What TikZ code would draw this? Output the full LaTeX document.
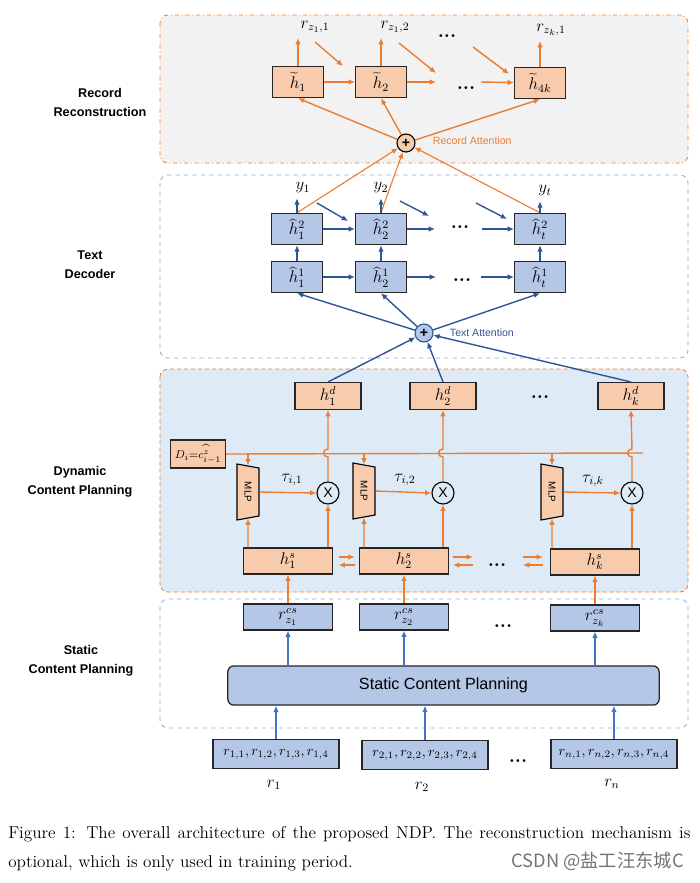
\documentclass[tikz,border=0pt]{standalone}
\usepackage{fontspec}
\setsansfont{Liberation Sans}
\newfontfamily\cjk{Noto Sans CJK SC}
\usetikzlibrary{arrows.meta,shapes.geometric,calc}
\definecolor{orangeLine}{RGB}{237,125,49}
\definecolor{peachFill}{RGB}{248,203,173}
\definecolor{blueFill}{RGB}{180,199,231}
\definecolor{blueLine}{RGB}{47,85,151}
\definecolor{inputLine}{RGB}{68,114,196}
\definecolor{dashBlue}{RGB}{143,170,220}
\definecolor{planFill}{RGB}{222,235,247}
\definecolor{recordFill}{RGB}{242,242,242}
\tikzset{cell/.style={draw=black!85, line width=0.9pt, inner sep=0pt, font=\fontsize{12}{14}\selectfont}}
\tikzset{recordCell/.style={cell, fill=peachFill, minimum width=1.27cm, minimum height=0.78cm}}
\tikzset{decoderCell/.style={cell, fill=blueFill, minimum width=1.27cm, minimum height=0.78cm}}
\tikzset{outCell/.style={cell, fill=peachFill, minimum width=1.65cm, minimum height=0.67cm}}
\tikzset{stateCell/.style={cell, fill=peachFill, minimum width=2.22cm, minimum height=0.65cm}}
\tikzset{csCell/.style={cell, fill=blueFill, minimum width=2.22cm, minimum height=0.65cm}}
\tikzset{inCell/.style={cell, fill=blueFill, minimum width=3.15cm, minimum height=0.73cm, font=\fontsize{10}{12}\selectfont}}
\tikzset{section/.style={rounded corners=0.2cm, line width=0.6pt}}
\tikzset{sideLabel/.style={font=\fontsize{9}{13.5}\selectfont\sffamily\bfseries, align=center}}
\tikzset{moreDots/.style={font=\fontsize{14}{14}\selectfont\bfseries}}
\tikzset{oplus/.style={circle, draw=black, line width=0.8pt, minimum size=0.45cm, inner sep=0pt, font=\sffamily\bfseries}}
\tikzset{prod/.style={circle, draw=black, line width=0.8pt, fill=planFill, minimum size=0.55cm, inner sep=0pt, font=\sffamily}}
\tikzset{mlp/.style={trapezium, trapezium stretches=true, trapezium left angle=76, trapezium right angle=76, rotate=-90, draw=black, line width=0.8pt, fill=peachFill, minimum width=1.4cm, minimum height=0.55cm, inner sep=0pt, font=\fontsize{7}{8}\selectfont\sffamily}}
\tikzset{outLabel/.style={font=\fontsize{12}{14}\selectfont}}
\tikzstyle{oarrow} = [draw=orangeLine, line width=1pt, -{Latex[length=4.5pt,width=4pt]}]
\tikzstyle{barrow} = [draw=blueLine, line width=1pt, -{Latex[length=4.5pt,width=4pt]}]
\tikzstyle{iarrow} = [draw=inputLine, line width=0.8pt, -{Latex[length=4.5pt,width=4pt]}]

\begin{document}
\begin{tikzpicture}[x=0.025cm, y=-0.025cm]
	\useasboundingbox (0,0) rectangle (699,883);

	% Sections
	\draw[section, draw=orangeLine, fill=recordFill, dash dot] (160,15) rectangle (688,163);
	\draw[section, draw=dashBlue, dashed] (160,175) rectangle (688,358);
	\draw[section, draw=orangeLine, fill=planFill, densely dashed] (160,369) rectangle (688,592);
	\draw[section, draw=dashBlue, dashed] (160,599) rectangle (688,728);

	\node (recordTitle) [sideLabel] at (100,102) {Record\\Reconstruction};
	\node (decoderTitle) [sideLabel] at (90,265) {Text\\Decoder};
	\node (dynamicTitle) [sideLabel] at (80,482) {Dynamic\\Content Planning};
	\node (staticTitle) [sideLabel] at (81,661) {Static\\Content Planning};

	% Nodes: record reconstruction
	\node (rec1) [recordCell] at (298,82) {$\widetilde{h}_1$};
	\node (rec2) [recordCell] at (381,82) {$\widetilde{h}_2$};
	\node (rec3) [recordCell] at (540,83) {$\widetilde{h}_{4k}$};
	\node (recDotsTop) [moreDots] at (447,36) {...};
	\node (recDots) [moreDots] at (466,88) {...};
	\node (recOut1) [outLabel] at (315,27) {$r_{z_1,1}$};
	\node (recOut2) [outLabel] at (395,27) {$r_{z_1,2}$};
	\node (recOut3) [outLabel] at (551,30) {$r_{z_k,1}$};
	\node (recPlus) [oplus, fill=peachFill] at (406,143) {+};
	\node (recAttn) [anchor=west, text=orangeLine, font=\fontsize{7.5}{9}\selectfont\sffamily] at (428,141) {Record Attention};
	\coordinate (recMidA) at (436,82);
	\coordinate (recMidB) at (481,82);

	% Nodes: text decoder
	\node (dec21) [decoderCell] at (297,229) {$\widehat{h}^2_1$};
	\node (dec22) [decoderCell] at (381,229) {$\widehat{h}^2_2$};
	\node (dec2t) [decoderCell] at (540,229) {$\widehat{h}^2_t$};
	\node (dec11) [decoderCell] at (297,277) {$\widehat{h}^1_1$};
	\node (dec12) [decoderCell] at (381,277) {$\widehat{h}^1_2$};
	\node (dec1t) [decoderCell] at (540,277) {$\widehat{h}^1_t$};
	\node (decDots2) [moreDots] at (460,227) {...};
	\node (decDots1) [moreDots] at (462,280) {...};
	\node (word1) [outLabel] at (303,188) {$y_1$};
	\node (word2) [outLabel] at (381,188) {$y_2$};
	\node (wordt) [outLabel] at (545,191) {$y_t$};
	\node (decPlus) [oplus, fill=blueFill, draw=blueLine] at (424,333) {+};
	\node (decAttn) [anchor=west, text=blueLine, font=\fontsize{7.5}{9}\selectfont\sffamily] at (445,333) {Text Attention};

	% Nodes: dynamic content planning
	\node (out1) [outCell] at (328,396) {$h^d_1$};
	\node (out2) [outCell] at (443,396) {$h^d_2$};
	\node (outk) [outCell] at (631,396) {$h^d_k$};
	\node (outDots) [moreDots] at (540,397) {...};
	\node (prevCtx) [cell, fill=peachFill, minimum width=1.38cm, minimum height=0.7cm, font=\fontsize{8.5}{10}\selectfont] at (198,454) {$D_i{=}c^{\widehat{z}}_{i-1}$};
	\coordinate (ctxEnd) at (643,453);
	\node (mlp1) [mlp] at (248,492) {MLP};
	\node (mlp2) [mlp] at (364,491) {MLP};
	\node (mlpk) [mlp] at (552,492) {MLP};
	\node (prod1) [prod] at (328,493) {X};
	\node (prod2) [prod] at (443,493) {X};
	\node (prodk) [prod] at (632,493) {X};
	\node (tau1) [outLabel] at (292,480) {$\tau_{i,1}$};
	\node (tau2) [outLabel] at (405,480) {$\tau_{i,2}$};
	\node (tauk) [outLabel] at (593,481) {$\tau_{i,k}$};
	\node (state1) [stateCell] at (288,561) {$h^s_1$};
	\node (state2) [stateCell] at (404,561) {$h^s_2$};
	\node (statek) [stateCell] at (595,562) {$h^s_k$};
	\node (stateDots) [moreDots] at (497,565) {...};

	% Nodes: static content planning
	\node (cs1) [csCell] at (288,617) {$r^{cs}_{z_1}$};
	\node (cs2) [csCell] at (404,617) {$r^{cs}_{z_2}$};
	\node (csk) [csCell] at (595,618) {$r^{cs}_{z_k}$};
	\node (csDots) [moreDots] at (503,626) {...};
	\node (planner) [cell, fill=blueFill, rounded corners=0.15cm, minimum width=10.78cm, minimum height=0.98cm, font=\fontsize{11.5}{13}\selectfont\sffamily] at (443.5,685.5) {Static Content Planning};
	\node (in1) [inCell] at (276,754) {$r_{1,1}, r_{1,2}, r_{1,3}, r_{1,4}$};
	\node (in2) [inCell] at (425,755) {$r_{2,1}, r_{2,2}, r_{2,3}, r_{2,4}$};
	\node (inn) [inCell] at (614,754) {$r_{n,1}, r_{n,2}, r_{n,3}, r_{n,4}$};
	\node (inDots) [moreDots] at (518,761) {...};
	\node (rec1Name) [outLabel] at (274,785) {$r_1$};
	\node (rec2Name) [outLabel] at (422,787) {$r_2$};
	\node (recnName) [outLabel] at (612,784) {$r_n$};

	% Caption
	\node (captionA) [anchor=west, inner sep=0pt, font=\fontsize{12.2}{14}\selectfont] at (8,834) {\makebox[17.05cm][s]{Figure 1: The overall architecture of the proposed NDP. The reconstruction mechanism is}};
	\node (captionB) [anchor=west, inner sep=0pt, font=\fontsize{12.2}{14}\selectfont] at (8,863) {optional, which is only used in training period.};
	\node (mark) [anchor=east, inner sep=0pt, text=black!55, font=\cjk\fontsize{13}{15}\selectfont] at (684,861) {CSDN @盐工汪东城C};

	% Connectors: record reconstruction
	\draw [oarrow] (rec1.north) -- (rec1.north |- recOut1.south);
	\draw [oarrow] (rec2.north) -- (rec2.north |- recOut2.south);
	\draw [oarrow] (rec3.north) -- (rec3.north |- recOut3.south);
	\draw [oarrow, line width=1.3pt] (rec1) -- (rec2);
	\draw [oarrow] (rec2) -- (recMidA);
	\draw [oarrow] (recMidB) -- (rec3);
	\draw [oarrow] (315,42) -- (343,66);
	\draw [oarrow] (399,43) -- (436,73);
	\draw [oarrow] (473,47) -- (509,74);
	\draw [oarrow] (recPlus) -- (rec1.south);
	\draw [oarrow] (recPlus) -- (rec2.south);
	\draw [oarrow] (recPlus) -- (rec3.south);
	\draw [oarrow, line width=0.8pt] (dec21.north) -- (recPlus);
	\draw [oarrow, line width=0.8pt] (dec22.north) -- (recPlus);
	\draw [oarrow, line width=0.8pt] (dec2t.north) -- (recPlus);

	% Connectors: text decoder
	\draw [barrow] (dec21.north) -- (dec21.north |- word1.south);
	\draw [barrow] (dec22.north) -- (dec22.north |- word2.south);
	\draw [barrow] (dec2t.north) -- (dec2t.north |- wordt.south);
	\draw [barrow] (dec11) -- (dec21);
	\draw [barrow] (dec12) -- (dec22);
	\draw [barrow] (dec1t) -- (dec2t);
	\draw [barrow] (dec21) -- (dec22);
	\draw [barrow, line width=1.3pt] (dec22) -- (435,229);
	\draw [barrow] (482,229) -- (dec2t);
	\draw [barrow] (dec11) -- (dec12);
	\draw [barrow] (dec12) -- (436,277);
	\draw [barrow] (481,277) -- (dec1t);
	\draw [barrow] (317,203) -- (348,221);
	\draw [barrow] (400,201) -- (429,216);
	\draw [barrow] (476,203) -- (507,219);
	\draw [barrow] (decPlus) -- (dec11.south);
	\draw [barrow] (decPlus) -- (dec12.south);
	\draw [barrow] (decPlus) -- (dec1t.south);
	\draw [barrow] (out1.north) -- (decPlus);
	\draw [barrow] (out2.north) -- (decPlus);
	\draw [barrow] (outk.north) -- (decPlus);

	% Connectors: dynamic content planning
	\draw [draw=orangeLine, line width=1pt] (prevCtx.east) -- (ctxEnd);
	\foreach \i in {1,2,k} {
		\draw [oarrow] (mlp\i.west |- ctxEnd) -- (mlp\i.west);
		\draw [oarrow] (state\i.north -| mlp\i) -- (mlp\i.east);
		\draw [oarrow] (mlp\i.north) -- (prod\i.west);
		\draw [oarrow] (state\i.north -| prod\i) -- (prod\i.south);
		\draw [oarrow] (prod\i.north) -- ($(prod\i |- ctxEnd)+(0,4)$) .. controls +(-6,0) and +(-6,0) .. ($(prod\i |- ctxEnd)+(0,-4)$) -- (out\i.south);
		\draw [oarrow] (cs\i.north) -- (state\i.south);
	}
	\draw [oarrow, shorten <=4pt, shorten >=3pt] ([yshift=0.1cm]state1.east) -- ([yshift=0.1cm]state2.west);
	\draw [oarrow, shorten <=3pt, shorten >=4pt] ([yshift=-0.1cm]state2.west) -- ([yshift=-0.1cm]state1.east);
	\draw [oarrow] (453,557) -- (473,557);
	\draw [oarrow] (473,565) -- (453,565);
	\draw [oarrow] (523,557) -- (543,557);
	\draw [oarrow] (543,565) -- (523,565);

	% Connectors: static content planning
	\draw [iarrow] (planner.north -| cs1) -- (cs1.south);
	\draw [iarrow] (planner.north -| cs2) -- (cs2.south);
	\draw [iarrow] (planner.north -| csk) -- (csk.south);
	\draw [iarrow] (in1.north) -- (in1.north |- planner.south);
	\draw [iarrow] (in2.north) -- (in2.north |- planner.south);
	\draw [iarrow] (inn.north) -- (inn.north |- planner.south);
\end{tikzpicture}
\end{document}
